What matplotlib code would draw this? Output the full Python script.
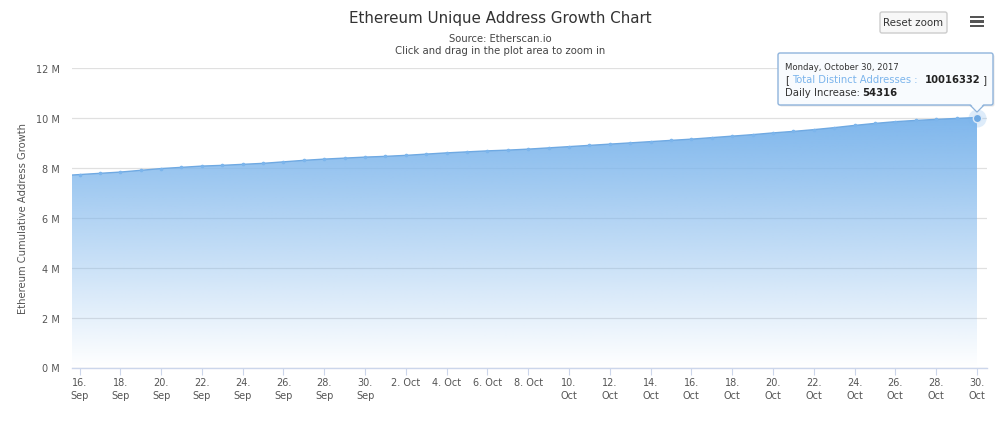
import numpy as np
import matplotlib
matplotlib.use("Agg")
import matplotlib.pyplot as plt
from matplotlib.patches import FancyBboxPatch, Polygon, Rectangle

plt.rcParams['font.family'] = ['DejaVu Sans']

# --- data ---
addresses = [7.68, 7.73, 7.78, 7.83, 7.90, 7.97, 8.02, 8.07, 8.10, 8.14, 8.18, 8.24,
             8.30, 8.35, 8.39, 8.43, 8.46, 8.50, 8.55, 8.60, 8.64, 8.68, 8.71, 8.75,
             8.80, 8.85, 8.90, 8.95, 9.00, 9.05, 9.10, 9.15, 9.21, 9.27, 9.33, 9.40,
             9.46, 9.53, 9.61, 9.70, 9.78, 9.85, 9.90, 9.94, 9.98, 10.016332]
tick_days = [16, 18, 20, 22, 24, 26, 28, 30, 32, 34, 36, 38, 40, 42, 44, 46, 48, 50, 52, 54, 56, 58, 60]
tick_labels = ['16.\nSep', '18.\nSep', '20.\nSep', '22.\nSep', '24.\nSep', '26.\nSep', '28.\nSep', '30.\nSep',
               '2. Oct', '4. Oct', '6. Oct', '8. Oct', '10.\nOct', '12.\nOct', '14.\nOct', '16.\nOct',
               '18.\nOct', '20.\nOct', '22.\nOct', '24.\nOct', '26.\nOct', '28.\nOct', '30.\nOct']
y_ticks = [0, 2, 4, 6, 8, 10, 12]
days = list(range(15, 61))

W, H = 1000, 427
fig = plt.figure(figsize=(W / 100, H / 100), dpi=100, facecolor='white')
L, R, T, B = 72, 987, 69, 368.5
ax = fig.add_axes([L / W, 1 - B / H, (R - L) / W, (B - T) / H])
px_per_day = (977 - 79.5) / 44
xlim = (16 - (79.5 - L) / px_per_day, 60 + (R - 977) / px_per_day)
ax.set_xlim(*xlim)
ax.set_ylim(0, 12)

for s in ['top', 'left', 'right']:
    ax.spines[s].set_visible(False)
ax.spines['bottom'].set_color('#ccd6eb')
ax.spines['bottom'].set_linewidth(1)
ax.set_yticks(y_ticks)
ax.set_yticklabels([f'{v} M' for v in y_ticks], fontsize=7.0, color='#555555')
ax.tick_params(axis='y', length=0, pad=9)
ax.set_xticks(tick_days)
ax.set_xticklabels(tick_labels, fontsize=7.0, color='#555555', linespacing=1.3)
ax.tick_params(axis='x', length=5, width=0.8, color='#ccd6eb', pad=2)
ax.grid(axis='y', color='#e0e0e0', linewidth=0.9, zorder=0)
ax.set_axisbelow(True)
ax.set_ylabel('Ethereum Cumulative Address Growth', fontsize=7.2, color='#555555')
ax.yaxis.set_label_coords((28 - L) / (R - L), 0.5)

# gradient area
xs = np.array(days, float)
ys = np.array(addresses)
grad = np.zeros((256, 2, 4))
grad[..., 0] = 124 / 255
grad[..., 1] = 181 / 255
grad[..., 2] = 236 / 255
grad[..., 3] = np.linspace(1, 0, 256)[:, None]
im = ax.imshow(grad, extent=[xlim[0], 60, 0, 10.1], origin='upper', aspect='auto', zorder=1.5, interpolation='bilinear')
poly = Polygon(np.vstack([[xs[0], 0], np.column_stack([xs, ys]), [xs[-1], 0]]), closed=True,
               transform=ax.transData, facecolor='none', edgecolor='none')
ax.add_patch(poly)
im.set_clip_path(poly)
ax.set_xlim(*xlim)
ax.set_ylim(0, 12)

ax.plot(xs, ys, color='#6fa9e2', lw=1.0, zorder=3, marker='o', ms=1.6, mec='#7cb5ec', mfc='#7cb5ec')
ax.plot(xs[-1], ys[-1], 'o', ms=13, color='#7cb5ec', alpha=0.25, mew=0, zorder=4)
ax.plot(xs[-1], ys[-1], 'o', ms=6, mfc='#6fa9e2', mec='#dbe9f8', mew=1, zorder=5, clip_on=False)

# overlay in pixel coordinates
ov = fig.add_axes([0, 0, 1, 1], facecolor='none')
ov.set_xlim(0, W)
ov.set_ylim(H, 0)
ov.axis('off')

ov.text(500, 19, 'Ethereum Unique Address Growth Chart', ha='center', va='center', fontsize=10.9, color='#333333')
ov.text(500, 38.5, 'Source: Etherscan.io', ha='center', va='center', fontsize=7.2, color='#444444')
ov.text(500, 51.5, 'Click and drag in the plot area to zoom in', ha='center', va='center', fontsize=7.3, color='#444444')

# reset zoom button
ov.add_patch(FancyBboxPatch((880, 13), 67, 21, boxstyle='round,pad=0,rounding_size=2',
                            fc='#f7f7f7', ec='#cccccc', lw=1))
ov.text(913.5, 23.5, 'Reset zoom', ha='center', va='center', fontsize=7.4, color='#333333')

# hamburger menu
for yy in (18, 22.5, 27):
    ov.add_patch(Rectangle((970, yy - 1.2), 14, 2.4, fc='#555555', ec='none'))

# tooltip
ov.add_patch(FancyBboxPatch((779.5, 55.5), 215, 52, boxstyle='round,pad=0,rounding_size=2',
                            fc='#000000', ec='none', alpha=0.10, zorder=4))
ov.add_patch(Polygon([[970, 106], [977, 113], [984, 106]], closed=True, fc='#f8fbfe', ec='#8fb4dc', lw=1, zorder=5))
ov.add_patch(FancyBboxPatch((778, 54), 215, 52, boxstyle='round,pad=0,rounding_size=2',
                            fc='#f8fbfe', ec='#8fb4dc', lw=1, zorder=6))
ov.add_patch(Polygon([[970.5, 105], [977, 112], [983.5, 105]], closed=True, fc='#f8fbfe', ec='none', zorder=7))
ov.text(785, 68, 'Monday, October 30, 2017', ha='left', va='center', fontsize=6.1, color='#333333', zorder=8)
ov.text(785, 80, '[', ha='left', va='center', fontsize=7.4, color='#333333', zorder=8)
ov.text(792, 80, 'Total Distinct Addresses :', ha='left', va='center', fontsize=7.2, color='#7cb5ec', zorder=8)
ov.text(925, 80, '10016332', ha='left', va='center', fontsize=7.2, color='#222222', fontweight='bold', zorder=8)
ov.text(983, 80, ']', ha='left', va='center', fontsize=7.4, color='#333333', zorder=8)
ov.text(785, 93, 'Daily Increase:', ha='left', va='center', fontsize=7.3, color='#333333', zorder=8)
ov.text(862, 93, '54316', ha='left', va='center', fontsize=7.2, color='#222222', fontweight='bold', zorder=8)

fig.savefig('out.png', dpi=100)
